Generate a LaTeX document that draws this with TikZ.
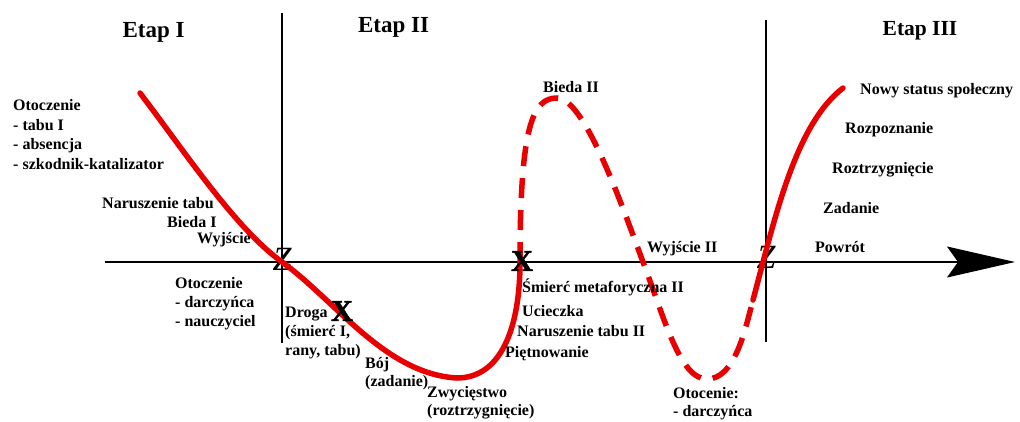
\documentclass[tikz,border=0pt]{standalone}
\usepackage{fontspec}
\setmainfont{Liberation Serif}
\newfontfamily\heavyxfont[FakeBold=2]{Liberation Serif}
\usetikzlibrary{arrows.meta}
\definecolor{curvered}{RGB}{232,0,0}
\begin{document}
\begin{tikzpicture}[x=1pt,y=-1pt,
  lbl/.style={inner sep=0pt, anchor=base west, font=\bfseries\fontsize{16}{19}\selectfont},
  blk/.style={inner sep=0pt, anchor=north west, align=left, font=\bfseries\fontsize{16}{19}\selectfont},
  ttl/.style={inner sep=0pt, anchor=base, font=\bfseries\fontsize{23}{23}\selectfont},
  zmark/.style={inner sep=0pt, font=\itshape\fontsize{34}{34}\selectfont},
  xmark/.style={inner sep=0pt, font=\heavyxfont\bfseries\fontsize{30}{30}\selectfont},
  axisline/.style={line width=1.3pt, black},
  vline/.style={line width=1.5pt, black},
  solidcurve/.style={line width=5.5pt, curvered, line cap=round},
  dashcurve/.style={line width=5.5pt, curvered, dash pattern=on 20pt off 12pt}
]
\useasboundingbox (0,0) rectangle (1020,421);

% axes
\coordinate (v1top) at (282,13);
\coordinate (v1bot) at (282,343);
\coordinate (v2top) at (766,20);
\coordinate (v2bot) at (766,342);
\coordinate (axL) at (105,262);
\coordinate (axR) at (1015,262);
\draw[vline] (v1top) -- (v1bot);
\draw[vline] (v2top) -- (v2bot);
\draw[axisline, -{Stealth[length=68pt,width=31pt,inset=11pt]}] (axL) -- (axR);

% titles
\node[ttl] (t1) at (153.5,37) {Etap I};
\node[ttl] (t2) at (393.5,32) {Etap II};
\node[ttl, font=\bfseries\fontsize{21.5}{21.5}\selectfont] (t3) at (920,35) {Etap III};

% Z markers (under the curve)
\node[zmark] (z1) at (282,259) {Z};
\node[zmark] (z2) at (766,257) {Z};

% curve points
\coordinate (c0) at (140,93);
\coordinate (c1) at (282,262);
\coordinate (c2) at (457,378);
\coordinate (c3) at (520,262);
\coordinate (c4) at (557,98);
\coordinate (c5) at (643,262);
\coordinate (c6) at (707,379);
\coordinate (c7) at (753,300);
\coordinate (c8) at (843,88);

\draw[solidcurve] (c0) .. controls (185,152) and (235,228) .. (c1)
  .. controls (335,300) and (385,374) .. (c2)
  .. controls (500,378) and (520,330) .. (c3);
\draw[dashcurve] (c3) .. controls (520,125) and (533,98) .. (c4)
  .. controls (584,98) and (620,200) .. (c5)
  .. controls (665,320) and (680,379) .. (c6)
  .. controls (735,379) and (745,330) .. (c7);
\draw[solidcurve] (c7) .. controls (775,218) and (795,125) .. (c8);

% X markers
\node[xmark] (x1) at (342,311) {X};
\node[xmark] (x2) at (522,261) {X};

% Etap I texts
\node[blk, font=\bfseries\fontsize{16}{19.7}\selectfont] (b1) at (13,99) {Otoczenie\\- tabu I\\- absencja\\- szkodnik-katalizator};
\node[lbl] (l1) at (102,208) {Naruszenie tabu};
\node[lbl] (l2) at (167,227) {Bieda I};
\node[lbl] (l3) at (197,243) {Wyjście};
\node[blk] (b2) at (175,277) {Otoczenie\\- darczyńca\\- nauczyciel};

% Etap II texts
\node[blk] (b3) at (285,307) {Droga\\(śmierć I,\\rany, tabu)};
\node[blk, font=\bfseries\fontsize{16}{18}\selectfont] (b4) at (365,357) {Bój\\(zadanie)};
\node[blk, font=\bfseries\fontsize{16}{18}\selectfont] (b5) at (427,386) {Zwycięstwo\\(roztrzygnięcie)};
\node[lbl] (l4) at (543,92) {Bieda II};
\node[lbl] (l5) at (522,292) {Śmierć metaforyczna II};
\node[lbl] (l6) at (522,316) {Ucieczka};
\node[lbl] (l7) at (517,336) {Naruszenie tabu II};
\node[lbl] (l8) at (505,357) {Piętnowanie};
\node[lbl] (l9) at (647,252) {Wyjście II};
\node[blk, font=\bfseries\fontsize{16}{18}\selectfont] (b6) at (673,387) {Otocenie:\\- darczyńca};

% Etap III texts
\node[lbl] (l10) at (860,94) {Nowy status społeczny};
\node[lbl] (l11) at (845,133) {Rozpoznanie};
\node[lbl] (l12) at (832,173) {Roztrzygnięcie};
\node[lbl] (l13) at (823,213) {Zadanie};
\node[lbl] (l14) at (815,252) {Powrót};
\end{tikzpicture}
\end{document}
